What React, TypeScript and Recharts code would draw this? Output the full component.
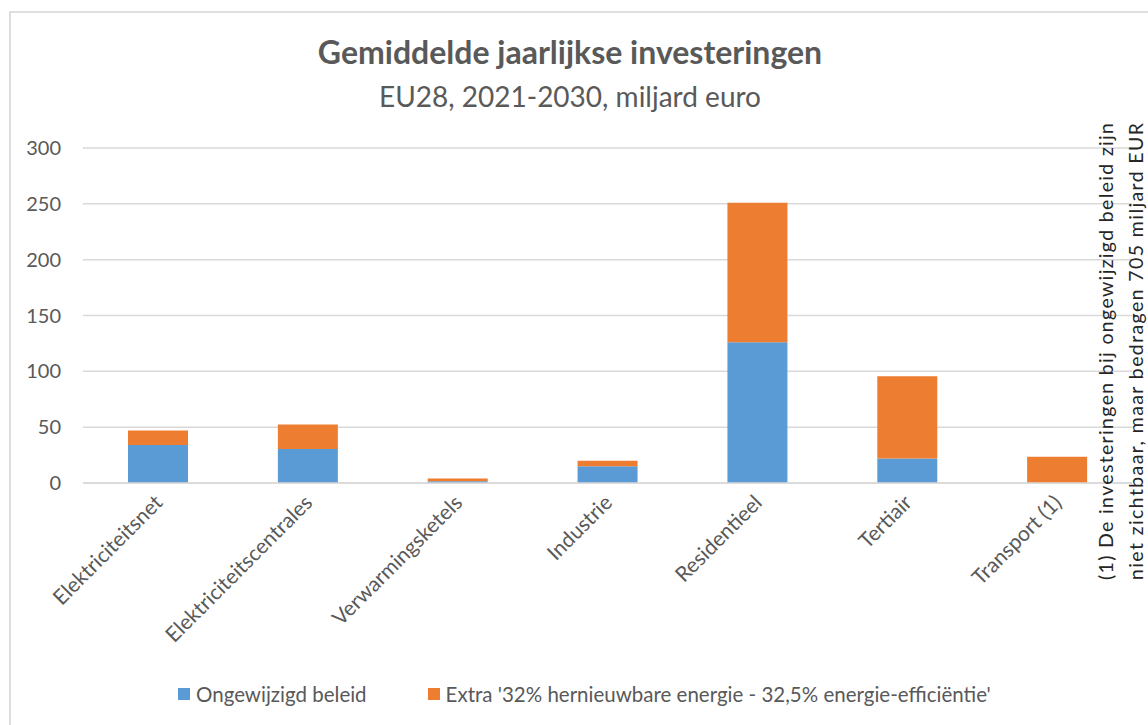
import React from "react";
import { BarChart, Bar, XAxis, YAxis, CartesianGrid } from "recharts";

// Gemiddelde jaarlijkse investeringen, EU28 2021-2030 (miljard euro)
const categories = [
  "Elektriciteitsnet",
  "Elektriciteitscentrales",
  "Verwarmingsketels",
  "Industrie",
  "Residentieel",
  "Tertiair",
  "Transport (1)",
];
const ongewijzigd = [34, 30.5, 1.5, 15, 126, 22, 0];
const extra = [13, 22, 2.5, 5, 125, 73.5, 23.5];
const yTicks = [0, 50, 100, 150, 200, 250, 300];

const seriesNames = ["Ongewijzigd beleid", "Extra '32% hernieuwbare energie - 32,5% energie-efficiëntie'"];
const noteLines = [
  "(1) De investeringen bij ongewijzigd beleid zijn",
  "niet zichtbaar, maar bedragen 705 miljard EUR",
];

const data = categories.map((name, i) => ({ name, ongewijzigd: ongewijzigd[i], extra: extra[i] }));

const FONT = "Lato, 'Noto Sans', sans-serif";
const GREY = "#595959";
const BLUE = "#5b9bd5";
const ORANGE = "#ed7d31";

const XTick = (props: any) => {
  const { x, y, payload } = props;
  const ax = x + 6;
  const ay = y + 21;
  return (
    <text
      x={ax}
      y={ay}
      transform={`rotate(-45, ${ax}, ${ay})`}
      textAnchor="end"
      fill={GREY}
      fontSize={21}
      fontFamily={FONT}
    >
      {payload.value}
    </text>
  );
};

const App = () => {
  return (
    <div style={{ position: "fixed", left: 0, top: 0, width: 1148, height: 725, overflow: "hidden", background: "#fff", fontFamily: FONT }}>
      {/* chart frame */}
      <div style={{ position: "absolute", left: 9, top: 11, width: 1200, height: 800, border: "2px solid #dedede" }} />

      {/* title */}
      <div style={{ position: "absolute", left: 9, width: 1122, top: 32, textAlign: "center", color: GREY }}>
        <div style={{ fontSize: 32, fontWeight: 700, lineHeight: "40px" }}>Gemiddelde jaarlijkse investeringen</div>
        <div style={{ fontSize: 28, lineHeight: "34px", marginTop: 7 }}>EU28, 2021-2030, miljard euro</div>
      </div>

      <div style={{ position: "absolute", left: 0, top: 0 }}>
        <BarChart width={1148} height={725} data={data} margin={{ top: 148, right: 16, left: 23, bottom: 112 }}>
          <CartesianGrid vertical={false} stroke="#d9d9d9" strokeWidth={1.5} />
          <XAxis
            dataKey="name"
            height={130}
            axisLine={{ stroke: "#d9d9d9", strokeWidth: 1.5 }}
            tickLine={false}
            tickSize={0}
            tickMargin={0}
            interval={0}
            tick={<XTick />}
          />
          <YAxis
            width={60}
            domain={[0, 300]}
            ticks={yTicks}
            axisLine={false}
            tickLine={false}
            tickSize={0}
            tickMargin={22}
            tick={{ fill: GREY, fontSize: 20, fontFamily: FONT }}
          />
          <Bar dataKey="ongewijzigd" stackId="a" fill={BLUE} barSize={60} isAnimationActive={false} />
          <Bar dataKey="extra" stackId="a" fill={ORANGE} barSize={60} isAnimationActive={false} />
        </BarChart>
      </div>

      {/* side note */}
      <svg width={1148} height={725} style={{ position: "absolute", left: 0, top: 0, pointerEvents: "none" }}>
        {noteLines.map((line, i) => {
          const x = 1113 + i * 30;
          const y = 580;
          return (
            <text
              key={i}
              x={x}
              y={y}
              transform={`rotate(-90, ${x}, ${y})`}
              fill="#262626"
              fontSize={19.5}
              fontFamily={FONT}
              textLength={457}
              lengthAdjust="spacing"
            >
              {line}
            </text>
          );
        })}
      </svg>

      {/* legend */}
      <div style={{ position: "absolute", top: 681, left: 178, display: "flex", alignItems: "center", color: GREY, fontSize: 20.5, lineHeight: "26px" }}>
        <span style={{ width: 12, height: 12, background: BLUE, display: "inline-block" }} />
        <span style={{ marginLeft: 6 }}>{seriesNames[0]}</span>
        <span style={{ width: 12, height: 12, background: ORANGE, display: "inline-block", marginLeft: 61 }} />
        <span style={{ marginLeft: 6 }}>{seriesNames[1]}</span>
      </div>
    </div>
  );
};

export default App;
